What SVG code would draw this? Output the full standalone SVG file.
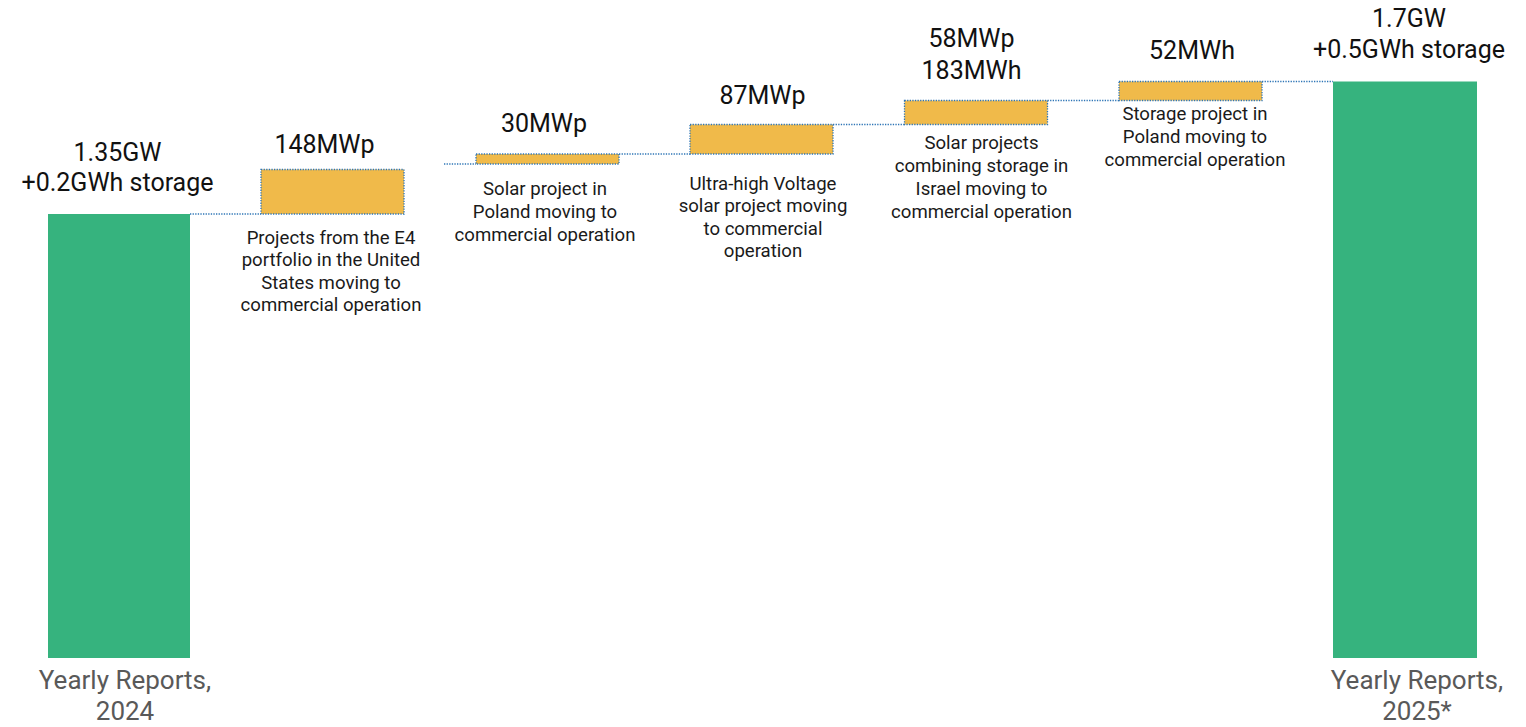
<svg xmlns="http://www.w3.org/2000/svg" width="1526" height="727" viewBox="0 0 1526 727">
<style>
.total{fill:#36B37E}
.step{fill:#F0BA4A;stroke:#2E75B6;stroke-width:1.3;stroke-dasharray:1.3 1.3}
.conn{stroke:#2E75B6;stroke-width:1.3;stroke-dasharray:1.3 1.3;fill:none}
.val{font-family:Roboto,"Liberation Sans",sans-serif;font-size:25px;fill:#111;text-anchor:middle}
.desc{font-family:Roboto,"Liberation Sans",sans-serif;font-size:18.6px;fill:#1a1a1a;text-anchor:middle}
.axis{font-family:Roboto,"Liberation Sans",sans-serif;font-size:26px;fill:#595959;text-anchor:middle}
</style>
<rect width="1526" height="727" fill="#fff"/>
<g id="connectors">
<line class="conn" x1="190" y1="214" x2="261" y2="214"/>
<line class="conn" x1="444" y1="164" x2="476" y2="164"/>
<line class="conn" x1="619" y1="154" x2="690" y2="154"/>
<line class="conn" x1="833" y1="124.5" x2="904.5" y2="124.5"/>
<line class="conn" x1="1047.5" y1="100.5" x2="1119" y2="100.5"/>
<line class="conn" x1="1262" y1="81.5" x2="1333" y2="81.5"/>
</g>
<g id="total-2024">
<rect class="total" x="48" y="214" width="142" height="444"/>
<text class="val" x="117.5" y="160.5">1.35GW</text>
<text class="val" x="117.5" y="191">+0.2GWh storage</text>
<text class="axis" x="125" y="689">Yearly Reports,</text>
<text class="axis" x="125" y="720">2024</text>
</g>
<g id="step-e4">
<rect class="step" x="261" y="169.5" width="143" height="44.5"/>
<text class="val" x="324.5" y="153">148MWp</text>
<text class="desc" x="331" y="243.5">Projects from the E4</text>
<text class="desc" x="331" y="266">portfolio in the United</text>
<text class="desc" x="331" y="288.5">States moving to</text>
<text class="desc" x="331" y="311">commercial operation</text>
</g>
<g id="step-poland-solar">
<rect class="step" x="476" y="154" width="143" height="10"/>
<text class="val" x="544" y="131.5">30MWp</text>
<text class="desc" x="545" y="195">Solar project in</text>
<text class="desc" x="545" y="218">Poland moving to</text>
<text class="desc" x="545" y="240.5">commercial operation</text>
</g>
<g id="step-uhv">
<rect class="step" x="690" y="124.5" width="143" height="29.5"/>
<text class="val" x="762.5" y="103.5">87MWp</text>
<text class="desc" x="763" y="189.5">Ultra-high Voltage</text>
<text class="desc" x="763" y="212">solar project moving</text>
<text class="desc" x="763" y="234.5">to commercial</text>
<text class="desc" x="763" y="257">operation</text>
</g>
<g id="step-israel">
<rect class="step" x="904.5" y="100.5" width="143" height="24"/>
<text class="val" x="971.5" y="46.5">58MWp</text>
<text class="val" x="971.5" y="78.5">183MWh</text>
<text class="desc" x="981.5" y="148.5">Solar projects</text>
<text class="desc" x="981.5" y="171.5">combining storage in</text>
<text class="desc" x="981.5" y="194.5">Israel moving to</text>
<text class="desc" x="981.5" y="217.5">commercial operation</text>
</g>
<g id="step-poland-storage">
<rect class="step" x="1119" y="81.5" width="143" height="19"/>
<text class="val" x="1192" y="58.5">52MWh</text>
<text class="desc" x="1195" y="120">Storage project in</text>
<text class="desc" x="1195" y="143">Poland moving to</text>
<text class="desc" x="1195" y="166">commercial operation</text>
</g>
<g id="total-2025">
<rect class="total" x="1333" y="81.5" width="144" height="576.5"/>
<text class="val" x="1409" y="27">1.7GW</text>
<text class="val" x="1409" y="57.5">+0.5GWh storage</text>
<text class="axis" x="1417" y="689">Yearly Reports,</text>
<text class="axis" x="1417" y="720">2025*</text>
</g>
</svg>
